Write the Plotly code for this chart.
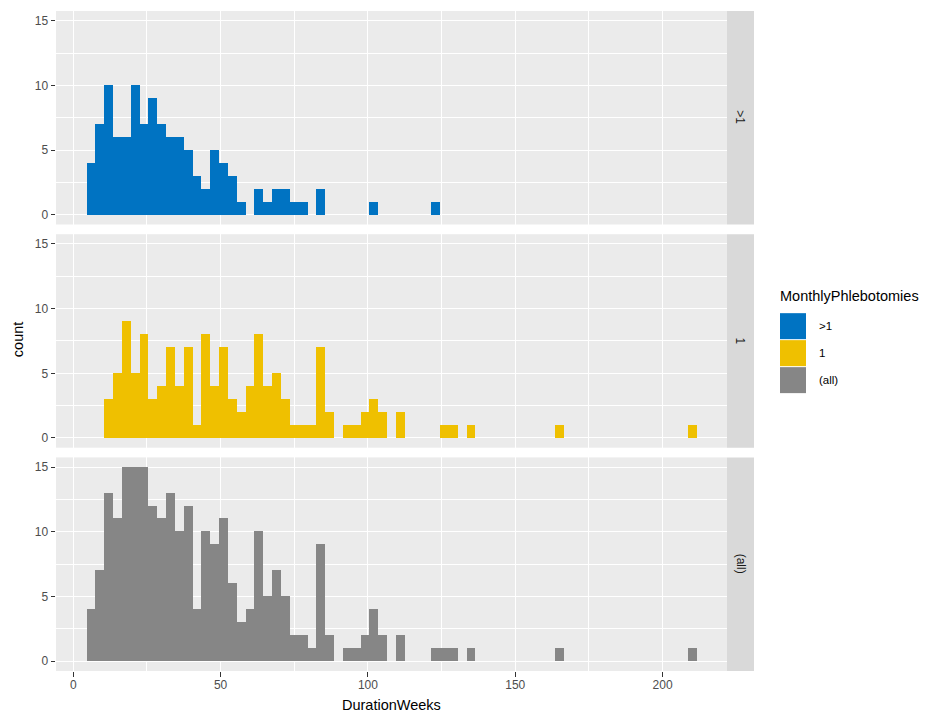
import plotly.graph_objects as go

# ---- data (histogram counts, binwidth 3 weeks, first bin starts at 4.5) ----
bin_start = 4.5
bin_width = 3.0

count_gt1 = [4,7,10,6,6,10,7,9,7,6, 6,5,3,2,5,4,3,1,0,2, 1,2,2,1,1,0,2,0,0,0,
             0,0,1,0,0,0,0,0,0,1, 0,0,0,0,0,0,0,0,0,0, 0,0,0,0,0,0,0,0,0,0,
             0,0,0,0,0,0,0,0,0]
count_one = [0,0,3,5,9,5,8,3,4,7, 4,7,1,8,4,7,3,2,4,8, 4,5,3,1,1,1,7,2,0,1,
             1,2,3,2,0,2,0,0,0,0, 1,1,0,1,0,0,0,0,0,0, 0,0,0,1,0,0,0,0,0,0,
             0,0,0,0,0,0,0,0,1]
count_all = [4,7,13,11,15,15,15,12,11,13, 10,12,4,10,9,11,6,3,4,10, 5,7,5,2,2,1,9,2,0,1,
             1,2,4,2,0,2,0,0,0,1, 1,1,0,1,0,0,0,0,0,0, 0,0,0,1,0,0,0,0,0,0,
             0,0,0,0,0,0,0,0,1]

groups = [">1", "1", "(all)"]
colors = ["#0073C2", "#EFC000", "#868686"]
series = [count_gt1, count_one, count_all]

x_ticks = [0, 50, 100, 150, 200]
y_ticks = [0, 5, 10, 15]

# ---- layout geometry (pixels) ----
W, H = 949, 717
L, R, T, B = 56, 727, 10.7, 671
pw, ph = R - L, B - T
panels_px = [(10.7, 224.3), (234.0, 447.6), (457.3, 671.0)]  # top, bottom in px


def py(y):
    return (B - y) / ph


def px(x):
    return (x - L) / pw


fig = go.Figure()
centers = [bin_start + bin_width * (k + 0.5) for k in range(len(count_all))]

for i, (g, c, s) in enumerate(zip(groups, colors, series)):
    ax = "" if i == 0 else str(i + 1)
    fig.add_trace(go.Bar(
        x=centers, y=s, width=bin_width, name=g,
        marker=dict(color=c, line=dict(width=0)),
        xaxis="x" + ax, yaxis="y" + ax, showlegend=False,
    ))

xr = [bin_start - 0.05 * (bin_width * len(count_all)),
      bin_start + bin_width * len(count_all) + 0.05 * (bin_width * len(count_all))]
yr = [-0.75, 15.75]

tickfont = dict(family="Liberation Sans, Arial, sans-serif", size=12, color="#4D4D4D")
layout = dict(
    width=W, height=H,
    margin=dict(l=L, r=W - R, t=T, b=H - B),
    paper_bgcolor="white", plot_bgcolor="#EBEBEB",
    bargap=0, barmode="overlay",
    font=dict(family="Liberation Sans, Arial, sans-serif"),
    showlegend=False,
)

for i in range(3):
    ax = "" if i == 0 else str(i + 1)
    top, bot = panels_px[i]
    bottom_axis = (i == 2)
    layout["xaxis" + ax] = dict(
        domain=[0, 1], range=xr, anchor="y" + ax,
        tickvals=x_ticks, showticklabels=bottom_axis,
        ticks="outside" if bottom_axis else "", ticklen=4.5, tickwidth=1.1, tickcolor="#333333",
        tickfont=tickfont, ticklabelstandoff=-2,
        showgrid=True, gridcolor="white", gridwidth=1.4, zeroline=False, showline=False,
        minor=dict(tickvals=[25, 75, 125, 175], showgrid=True, gridcolor="white", gridwidth=0.7, ticks=""),
        fixedrange=True,
    )
    if i > 0:
        layout["xaxis" + ax]["matches"] = "x"
    layout["yaxis" + ax] = dict(
        domain=[py(bot), py(top)], range=yr, anchor="x" + ax,
        tickvals=y_ticks, ticks="outside", ticklen=4.5, tickwidth=1.1, tickcolor="#333333",
        tickfont=tickfont,
        showgrid=True, gridcolor="white", gridwidth=1.4, zeroline=False, showline=False,
        minor=dict(tickvals=[2.5, 7.5, 12.5], showgrid=True, gridcolor="white", gridwidth=0.7, ticks=""),
        fixedrange=True,
    )

fig.update_layout(**layout)

shapes = []
annotations = []
# facet strips
for i, g in enumerate(groups):
    top, bot = panels_px[i]
    shapes.append(dict(type="rect", xref="paper", yref="paper",
                       x0=px(727), x1=px(754), y0=py(bot), y1=py(top),
                       fillcolor="#D9D9D9", line=dict(width=0), layer="below"))
    annotations.append(dict(xref="paper", yref="paper", x=px(740.5), y=py((top + bot) / 2),
                            text=g, textangle=90, showarrow=False,
                            font=dict(size=12, color="#1A1A1A"),
                            xanchor="center", yanchor="middle"))

# axis titles
annotations.append(dict(xref="paper", yref="paper", x=px(391.5), y=py(705),
                        text="DurationWeeks", showarrow=False,
                        font=dict(size=14.5, color="black"), xanchor="center", yanchor="middle"))
annotations.append(dict(xref="paper", yref="paper", x=px(18), y=py(340),
                        text="count", textangle=-90, showarrow=False,
                        font=dict(size=14.5, color="black"), xanchor="center", yanchor="middle"))

# legend (drawn to match ggplot key size)
annotations.append(dict(xref="paper", yref="paper", x=px(778), y=py(296),
                        text="MonthlyPhlebotomies", showarrow=False,
                        font=dict(size=14.5, color="black"), xanchor="left", yanchor="middle"))
key_tops = [313, 340, 367]
for g, c, kt in zip(groups, colors, key_tops):
    shapes.append(dict(type="rect", xref="paper", yref="paper",
                       x0=px(780), x1=px(806), y0=py(kt + 26), y1=py(kt),
                       fillcolor=c, line=dict(width=0)))
    annotations.append(dict(xref="paper", yref="paper", x=px(817), y=py(kt + 13),
                            text=g, showarrow=False,
                            font=dict(size=11.5, color="black"), xanchor="left", yanchor="middle"))

fig.update_layout(shapes=shapes, annotations=annotations)
fig.write_html("out.html")
